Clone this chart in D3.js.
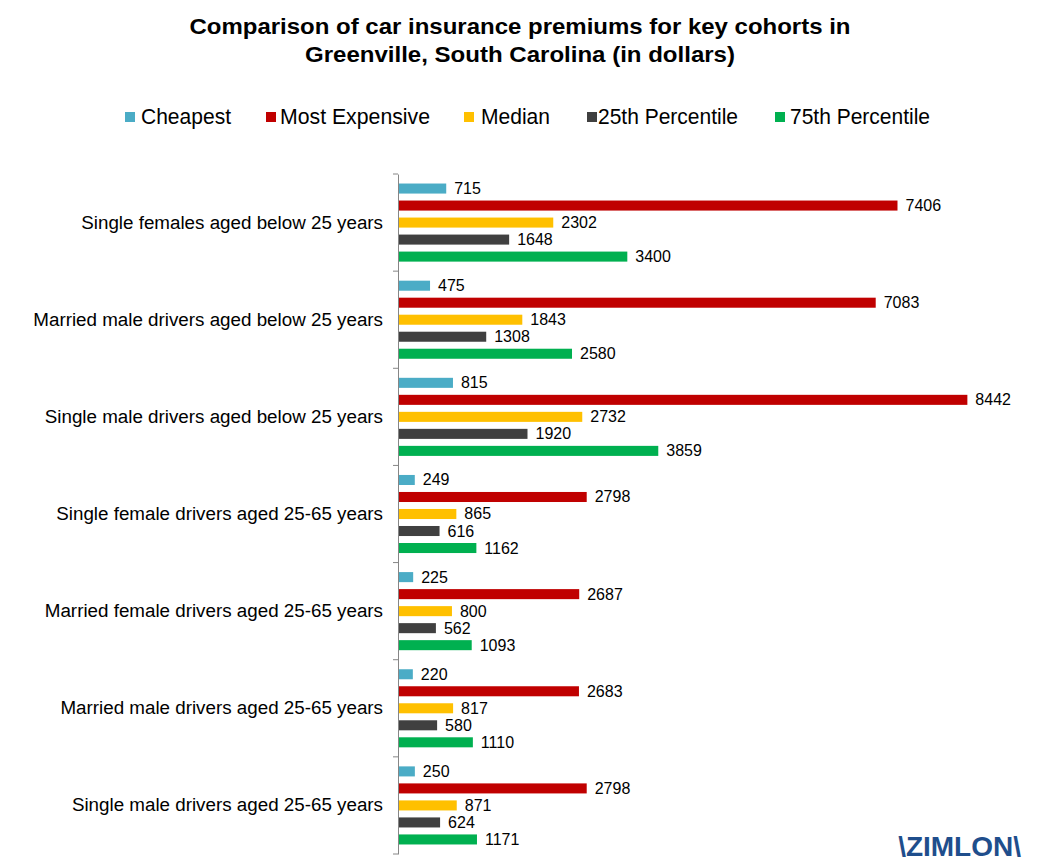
<!DOCTYPE html>
<html>
<head>
<meta charset="utf-8">
<script src="https://cdn.jsdelivr.net/npm/d3@7"></script>
<style>
  body { margin: 0; background: #fff; }
  svg { font-family: "Liberation Sans", Arial, sans-serif; }
</style>
</head>
<body>
<div id="chart"></div>
<script>
// Data
const categories = [
  "Single females aged below 25 years",
  "Married male drivers aged below 25 years",
  "Single male drivers aged below 25 years",
  "Single female drivers aged 25-65 years",
  "Married female drivers aged 25-65 years",
  "Married male drivers aged 25-65 years",
  "Single male drivers aged 25-65 years"
];
const seriesNames = ["Cheapest", "Most Expensive", "Median", "25th Percentile", "75th Percentile"];
const cheapest = [715, 475, 815, 249, 225, 220, 250];
const mostExpensive = [7406, 7083, 8442, 2798, 2687, 2683, 2798];
const median = [2302, 1843, 2732, 865, 800, 817, 871];
const pct25 = [1648, 1308, 1920, 616, 562, 580, 624];
const pct75 = [3400, 2580, 3859, 1162, 1093, 1110, 1171];
const colors = ["#4BACC6", "#C00000", "#FFC000", "#404040", "#00B050"];

const values = [cheapest, mostExpensive, median, pct25, pct75];

const width = 1042;
const height = 866;
const margin = { top: 174, right: 37, bottom: 12, left: 398 };

const svg = d3.select("#chart")
  .append("svg")
  .attr("width", width)
  .attr("height", height);

// Scales
const x = d3.scaleLinear()
  .domain([0, 9000])
  .range([margin.left, width - margin.right]);

const y = d3.scaleBand()
  .domain(categories)
  .range([margin.top, height - margin.bottom]);

const ySub = d3.scaleBand()
  .domain(seriesNames)
  .range([0, y.bandwidth()])
  .paddingInner(0.41)
  .paddingOuter(0.56);

// Title (two lines, stretched a little like the original)
const titleLines = ["Comparison of car insurance premiums for key cohorts in",
                    "Greenville, South Carolina (in dollars)"];
const titleWidths = [661, 430];
svg.append("g")
  .selectAll("text")
  .data(titleLines)
  .enter()
  .append("text")
  .attr("x", 520)
  .attr("y", (d, i) => 34 + i * 28)
  .attr("text-anchor", "middle")
  .attr("font-size", "22px")
  .attr("font-weight", "bold")
  .attr("textLength", (d, i) => titleWidths[i])
  .attr("lengthAdjust", "spacingAndGlyphs")
  .text(d => d);

// Legend
const legendBoxX = [125, 266, 464, 587, 775];
const legendTextX = [141, 280, 481, 598, 790];
const legendTextW = [90, 150, 69, 140, 140];
const legend = svg.append("g");
seriesNames.forEach((name, i) => {
  legend.append("rect")
    .attr("x", legendBoxX[i]).attr("y", 112)
    .attr("width", 10).attr("height", 10)
    .attr("fill", colors[i]);
  legend.append("text")
    .attr("x", legendTextX[i])
    .attr("y", 124)
    .attr("font-size", "22px")
    .attr("textLength", legendTextW[i])
    .attr("lengthAdjust", "spacingAndGlyphs")
    .text(name);
});

// Bars
const groups = svg.append("g")
  .selectAll("g")
  .data(categories)
  .enter()
  .append("g")
  .attr("transform", d => `translate(0,${y(d)})`);

seriesNames.forEach((name, s) => {
  groups.append("rect")
    .attr("x", x(0))
    .attr("y", ySub(name))
    .attr("width", (d, i) => x(values[s][i]) - x(0))
    .attr("height", ySub.bandwidth())
    .attr("fill", colors[s]);

  groups.append("text")
    .attr("x", (d, i) => x(values[s][i]) + 8)
    .attr("y", ySub(name) + ySub.bandwidth() / 2)
    .attr("dominant-baseline", "central")
    .attr("font-size", "16px")
    .attr("fill", "#000")
    .text((d, i) => values[s][i]);
});

// Y axis
const yAxis = svg.append("g")
  .attr("transform", `translate(${margin.left},0)`)
  .call(d3.axisLeft(y).tickSize(0).tickPadding(15));
yAxis.select(".domain").attr("stroke", "#868686");
yAxis.selectAll("text")
  .attr("font-size", "18.8px")
  .attr("font-family", "Liberation Sans, Arial, sans-serif")
  .attr("fill", "#000");

// Group boundary ticks
const boundaries = categories.map(c => y(c)).concat([y(categories[categories.length - 1]) + y.step()]);
svg.append("g")
  .selectAll("line")
  .data(boundaries)
  .enter()
  .append("line")
  .attr("x1", margin.left - 5)
  .attr("x2", margin.left)
  .attr("y1", d => d)
  .attr("y2", d => d)
  .attr("stroke", "#868686");

// Logo
svg.append("text")
  .attr("x", 1021)
  .attr("y", 856)
  .attr("text-anchor", "end")
  .attr("font-size", "28px")
  .attr("font-weight", "bold")
  .attr("fill", "#1F4E8C")
  .text("\\ZIMLON\\");
</script>
</body>
</html>
